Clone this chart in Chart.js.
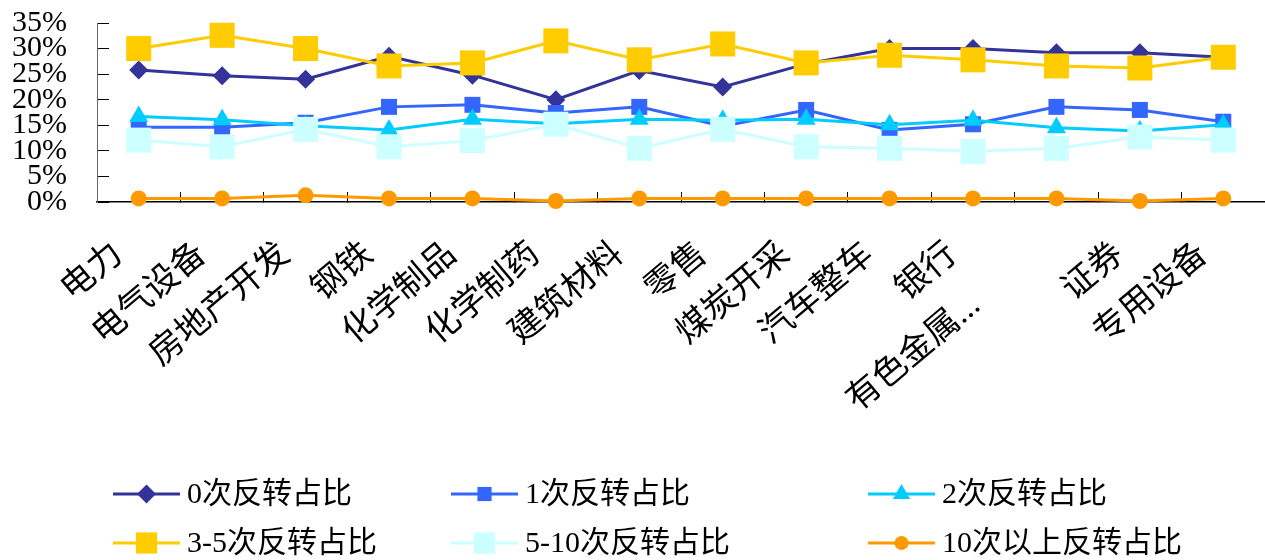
<!DOCTYPE html>
<html lang="zh-CN">
<head>
<meta charset="utf-8">
<title>各行业反转次数占比</title>
<script src="https://cdn.jsdelivr.net/npm/chart.js@4.4.1/dist/chart.umd.min.js"></script>
<style>
  html, body { margin: 0; padding: 0; background: #ffffff; overflow: hidden; }
  #wrap { width: 1265px; height: 560px; position: relative; overflow: hidden; }
  #chart { display: block; }
</style>
</head>
<body>
<div id="wrap"><canvas id="chart" width="1265" height="560"></canvas></div>
<script>
// Industries along the x axis
const categories = ['电力', '电气设备', '房地产开发', '钢铁', '化学制品', '化学制药', '建筑材料',
  '零售', '煤炭开采', '汽车整车', '银行', '有色金属...', '证券', '专用设备'];

// Share of stocks by number of reversals (%)
const rev0   = [25.8, 24.7, 24.0, 28.5, 24.8, 20.0, 25.7, 22.5, 27.0, 30.0, 30.0, 29.2, 29.2, 28.3];
const rev1   = [14.6, 14.6, 15.5, 18.6, 19.0, 17.4, 18.6, 14.8, 18.0, 14.1, 15.2, 18.6, 18.0, 15.7];
const rev2   = [16.7, 16.1, 14.9, 14.1, 16.2, 15.3, 16.2, 16.0, 16.2, 15.1, 16.0, 14.5, 13.9, 15.1];
const rev3to5  = [30.0, 32.6, 30.0, 26.6, 27.2, 31.5, 27.8, 30.9, 27.2, 28.7, 27.8, 26.6, 26.2, 28.3];
const rev5to10 = [12.1, 10.8, 14.2, 10.8, 12.0, 15.2, 10.5, 14.2, 10.8, 10.5, 9.9, 10.5, 12.7, 12.1];
const rev10up  = [0.7, 0.7, 1.3, 0.7, 0.7, 0.2, 0.7, 0.7, 0.7, 0.7, 0.7, 0.7, 0.2, 0.7];

const seriesNames = ['0次反转占比', '1次反转占比', '2次反转占比',
  '3-5次反转占比', '5-10次反转占比', '10次以上反转占比'];

// Axis ticks
const yTickMin = 0, yTickMax = 35, yTickStep = 5;

const FONT_FAMILY = "'Liberation Serif', 'Noto Sans CJK SC', serif";

const styles = [
  { color: '#333399', style: 'rectRot',  radius: 9.5,  legendRadius: 9.5 },
  { color: '#3366FF', style: 'rect',     radius: 11.3, legendRadius: 10 },
  { color: '#00CCFF', style: 'triangle', radius: 11,   legendRadius: 10 },
  { color: '#FFCC00', style: 'rect',     radius: 17.7, legendRadius: 15 },
  { color: '#CCFFFF', style: 'rect',     radius: 17.7, legendRadius: 15 },
  { color: '#FF9900', style: 'circle',   radius: 8,    legendRadius: 7 }
];
const seriesData = [rev0, rev1, rev2, rev3to5, rev5to10, rev10up];

const datasets = seriesData.map((values, i) => ({
  label: seriesNames[i],
  data: values,
  borderColor: styles[i].color,
  backgroundColor: styles[i].color,
  borderWidth: 3,
  tension: 0,
  pointStyle: styles[i].style,
  pointRadius: styles[i].radius,
  pointHoverRadius: styles[i].radius,
  pointBackgroundColor: styles[i].color,
  pointBorderColor: styles[i].color,
  pointBorderWidth: 0,
  pointHoverBorderWidth: 0,
  clip: false,
  // first series at the bottom, later series painted over it
  order: seriesData.length - i
}));

// Keep the plot rectangle fixed: the axis boxes get a set size and no extra padding
function fixBox(size) {
  return (scale) => {
    if (scale.isHorizontal()) scale.height = size; else scale.width = size;
    scale.paddingTop = 0;
    scale.paddingBottom = 0;
    scale.paddingLeft = 0;
    scale.paddingRight = 0;
  };
}

// Two-row legend with line + marker samples
const legendPlugin = {
  id: 'rowLegend',
  afterDraw(chart) {
    const ctx = chart.ctx;
    const colX = [113, 451, 868];
    const rowY = [494, 543];
    chart.data.datasets.forEach((ds, i) => {
      const x0 = colX[i % 3];
      const y = rowY[Math.floor(i / 3)];
      ctx.save();
      ctx.strokeStyle = ds.borderColor;
      ctx.lineWidth = 3;
      ctx.beginPath();
      ctx.moveTo(x0, y);
      ctx.lineTo(x0 + 67, y);
      ctx.stroke();
      ctx.fillStyle = ds.pointBackgroundColor;
      ctx.strokeStyle = ds.pointBorderColor;
      Chart.helpers.drawPoint(ctx, {
        pointStyle: ds.pointStyle,
        radius: styles[i].legendRadius,
        rotation: 0,
        borderWidth: 0
      }, x0 + 33.5, y);
      ctx.fillStyle = '#000000';
      ctx.font = '30px ' + FONT_FAMILY;
      ctx.textAlign = 'left';
      ctx.textBaseline = 'middle';
      ctx.fillText(ds.label, x0 + 74, y + 1);
      ctx.restore();
    });
  }
};

new Chart(document.getElementById('chart'), {
  type: 'line',
  data: { labels: categories, datasets },
  plugins: [legendPlugin],
  options: {
    responsive: false,
    animation: false,
    devicePixelRatio: 1,
    layout: { autoPadding: false, padding: { top: 23, right: 0, bottom: 0, left: 0 } },
    plugins: {
      legend: { display: false },
      tooltip: { enabled: false }
    },
    scales: {
      x: {
        type: 'category',
        offset: true,
        afterFit: fixBox(358),
        border: { display: true, color: '#000000', width: 1.5 },
        grid: {
          offset: true,
          drawOnChartArea: false,
          drawTicks: true,
          tickLength: -10,
          color: '#000000',
          lineWidth: 1
        },
        ticks: {
          autoSkip: false,
          minRotation: 40,
          maxRotation: 40,
          padding: 43,
          labelOffset: -20,
          color: '#000000',
          font: { family: FONT_FAMILY, size: 34 },
          callback(value, index) {
            const text = this.getLabelForValue(value);
            // the truncated name sits further down its slant
            return text.endsWith('...') ? text + '\u2003\u2002\u2005\u2009\u2009\u2006' : text;
          }
        }
      },
      y: {
        min: yTickMin,
        max: yTickMax,
        afterFit: fixBox(97),
        border: { display: true, color: '#666666', width: 1 },
        grid: {
          drawOnChartArea: false,
          drawTicks: true,
          tickLength: -12,
          color: '#000000',
          lineWidth: 1
        },
        ticks: {
          stepSize: yTickStep,
          autoSkip: false,
          padding: 42,
          color: '#000000',
          font: { family: FONT_FAMILY, size: 30 },
          callback: (v) => v + '%'
        }
      }
    }
  }
});
</script>
</body>
</html>
